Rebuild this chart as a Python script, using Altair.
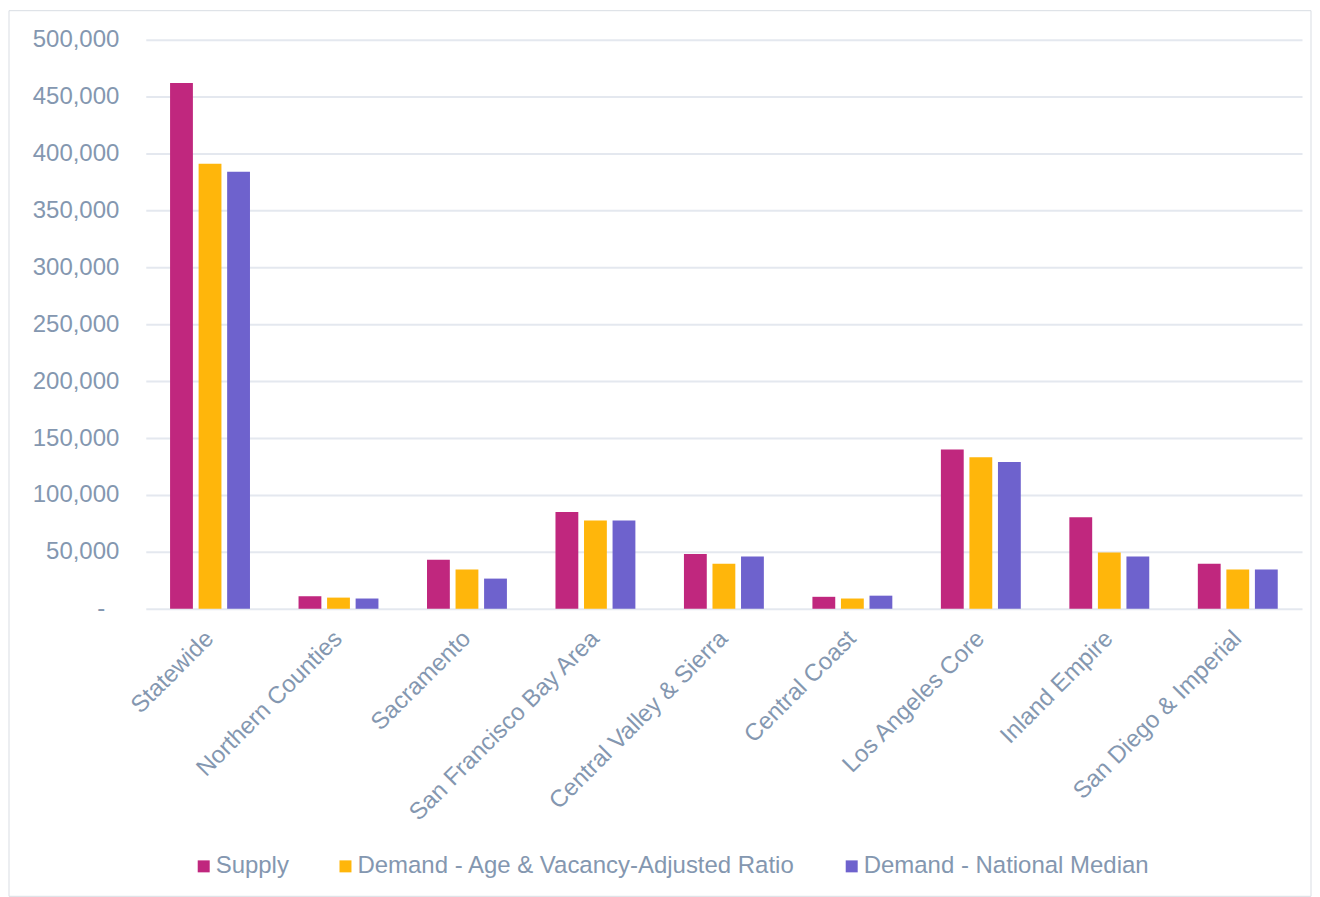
import altair as alt
import pandas as pd

regions = ["Statewide", "Northern Counties", "Sacramento", "San Francisco Bay Area",
           "Central Valley & Sierra", "Central Coast", "Los Angeles Core",
           "Inland Empire", "San Diego & Imperial"]
series = ["Supply", "Demand - Age & Vacancy-Adjusted Ratio", "Demand - National Median"]
supply = [462000, 11000, 43000, 85000, 48000, 10500, 140000, 80500, 39500]
demand_age = [391000, 9800, 34500, 77500, 39500, 9000, 133000, 49500, 34500]
demand_nat = [384000, 9000, 26500, 77500, 46000, 11500, 129000, 46000, 34500]
colors = ["#C0277E", "#FFB60B", "#6E62CD"]
y_ticks = [0, 50000, 100000, 150000, 200000, 250000, 300000, 350000, 400000, 450000, 500000]

rows = []
for s, vals in zip(series, [supply, demand_age, demand_nat]):
    for r, v in zip(regions, vals):
        rows.append({"region": r, "series": s, "value": v})
df = pd.DataFrame(rows)

TXT = "#8497B0"
FONT = "Liberation Sans"
FS = 24

bars = alt.Chart(df).mark_bar().encode(
    x=alt.X("region:N", sort=regions,
            scale=alt.Scale(paddingInner=0.378, paddingOuter=0.189),
            axis=alt.Axis(title=None, labelAngle=-45, labelAlign="right",
                          labelBaseline="middle", labelFontSize=FS, labelColor=TXT,
                          ticks=False, domain=False, labelPadding=26, labelLimit=0,
                          grid=False)),
    xOffset=alt.XOffset("series:N", sort=series, scale=alt.Scale(paddingInner=0.2)),
    y=alt.Y("value:Q", scale=alt.Scale(domain=[0, 500000], nice=False),
            axis=alt.Axis(title=None, values=y_ticks,
                          labelExpr="datum.value == 0 ? '-' : format(datum.value, ',')",
                          ticks=False, domain=False,
                          labelPadding={"condition": {"test": "datum.value == 0", "value": 41},
                                        "value": 27},
                          labelFontSize=FS, labelColor=TXT,
                          gridColor="#E4E8EF", gridWidth=2)),
    color=alt.Color("series:N", sort=series,
                    scale=alt.Scale(domain=series, range=colors),
                    legend=alt.Legend(title=None, orient="none", legendX=46, legendY=816,
                                      direction="horizontal", symbolType="square",
                                      symbolSize=144, labelFontSize=FS, labelColor=TXT,
                                      columnPadding=44, labelOffset=0, labelLimit=0,
                                      symbolStrokeWidth=0)),
)

frame = alt.Chart(alt.Data(values=[{}])).mark_rect(
    fillOpacity=0, stroke="#D9DDE3", strokeWidth=1
).encode(
    x=alt.value(-137), x2=alt.value(1167), y=alt.value(-29), y2=alt.value(858)
)

chart = alt.layer(frame, bars).properties(
    width=1158, height=570,
    padding={"left": 0, "top": 1, "right": 0, "bottom": 0}
).configure(font=FONT).configure_view(strokeWidth=0)

chart.save("out.html", embed_options={"renderer": "svg", "actions": False})
